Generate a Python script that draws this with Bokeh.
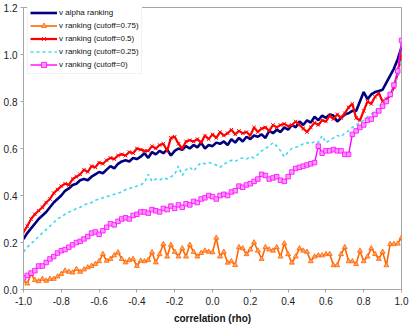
from bokeh.plotting import figure
from bokeh.models import (Range1d, FixedTicker, NumeralTickFormatter, Legend, LegendItem)
from bokeh.embed import file_html
from bokeh.resources import INLINE

# correlation (rho) categories: -1.0 .. 1.0 in steps of 0.02
rho = [round(-1 + 0.02 * i, 2) for i in range(101)]

alpha_ranking = [
    0.215, 0.24, 0.26, 0.28, 0.30, 0.315, 0.33, 0.35, 0.37, 0.385,
    0.40, 0.42, 0.43, 0.445, 0.45, 0.465, 0.47, 0.465, 0.48, 0.49,
    0.50, 0.495, 0.51, 0.525, 0.515, 0.535, 0.545, 0.55, 0.545, 0.56,
    0.555, 0.565, 0.58, 0.56, 0.585, 0.575, 0.59, 0.58, 0.595, 0.57,
    0.59, 0.60, 0.595, 0.61, 0.60, 0.615, 0.605, 0.625, 0.60, 0.615,
    0.61, 0.625, 0.62, 0.63, 0.615, 0.64, 0.625, 0.645, 0.63, 0.65,
    0.64, 0.655, 0.65, 0.66, 0.645, 0.675, 0.665, 0.68, 0.67, 0.69,
    0.68, 0.70, 0.69, 0.715, 0.70, 0.72, 0.71, 0.735, 0.72, 0.74,
    0.73, 0.745, 0.74, 0.715, 0.73, 0.745, 0.75, 0.76, 0.76, 0.80,
    0.84, 0.81, 0.83, 0.84, 0.845, 0.85, 0.88, 0.91, 0.94, 0.98,
    1.03,
]

cutoff_075 = [
    0.037, 0.025, 0.066, 0.04, 0.035, 0.045, 0.037, 0.045, 0.045, 0.055,
    0.066, 0.08, 0.075, 0.072, 0.087, 0.075, 0.085, 0.094, 0.10, 0.108,
    0.12, 0.151, 0.122, 0.13, 0.145, 0.158, 0.13, 0.115, 0.125, 0.13,
    0.10, 0.122, 0.12, 0.125, 0.158, 0.115, 0.15, 0.193, 0.14, 0.19,
    0.16, 0.14, 0.175, 0.14, 0.19, 0.16, 0.14, 0.155, 0.165, 0.16,
    0.158, 0.22, 0.14, 0.16, 0.114, 0.12, 0.104, 0.18, 0.175, 0.15,
    0.17, 0.20, 0.165, 0.13, 0.18, 0.17, 0.165, 0.18, 0.14, 0.196,
    0.15, 0.114, 0.14, 0.175, 0.165, 0.16, 0.12, 0.14, 0.145, 0.145,
    0.15, 0.151, 0.103, 0.103, 0.15, 0.18, 0.12, 0.12, 0.108, 0.165,
    0.12, 0.14, 0.175, 0.151, 0.13, 0.16, 0.103, 0.193, 0.193, 0.195,
    0.22,
]

cutoff_05 = [
    0.245, 0.27, 0.30, 0.32, 0.335, 0.35, 0.37, 0.385, 0.41, 0.425,
    0.44, 0.45, 0.445, 0.47, 0.48, 0.49, 0.51, 0.50, 0.525, 0.52,
    0.54, 0.535, 0.55, 0.56, 0.555, 0.57, 0.575, 0.57, 0.585, 0.58,
    0.60, 0.595, 0.59, 0.59, 0.61, 0.60, 0.615, 0.62, 0.59, 0.645,
    0.65, 0.62, 0.60, 0.63, 0.635, 0.63, 0.64, 0.625, 0.655, 0.64,
    0.66, 0.645, 0.67, 0.655, 0.665, 0.68, 0.66, 0.675, 0.665, 0.67,
    0.655, 0.69, 0.67, 0.685, 0.69, 0.675, 0.70, 0.69, 0.70, 0.705,
    0.695, 0.70, 0.715, 0.70, 0.685, 0.67, 0.69, 0.71, 0.70, 0.72,
    0.715, 0.74, 0.725, 0.745, 0.73, 0.75, 0.775, 0.79, 0.73, 0.72,
    0.76, 0.80, 0.79, 0.82, 0.835, 0.80, 0.81, 0.825, 0.86, 0.92,
    1.00,
]

cutoff_025 = [
    0.16, 0.18, 0.195, 0.21, 0.225, 0.24, 0.255, 0.27, 0.285, 0.30,
    0.31, 0.32, 0.33, 0.335, 0.345, 0.35, 0.36, 0.365, 0.37, 0.38,
    0.385, 0.39, 0.395, 0.40, 0.405, 0.41, 0.415, 0.425, 0.43, 0.435,
    0.44, 0.445, 0.455, 0.49, 0.46, 0.47, 0.465, 0.475, 0.47, 0.48,
    0.49, 0.525, 0.485, 0.51, 0.52, 0.505, 0.525, 0.54, 0.535, 0.54,
    0.535, 0.53, 0.52, 0.535, 0.54, 0.55, 0.545, 0.555, 0.56, 0.555,
    0.565, 0.56, 0.575, 0.59, 0.60, 0.61, 0.625, 0.61, 0.59, 0.565,
    0.585, 0.60, 0.605, 0.61, 0.62, 0.625, 0.62, 0.63, 0.625, 0.655,
    0.625, 0.635, 0.645, 0.655, 0.65, 0.665, 0.675, 0.69, 0.70, 0.71,
    0.72, 0.735, 0.745, 0.76, 0.775, 0.795, 0.81, 0.83, 0.86, 0.91,
    0.98,
]

cutoff_0 = [
    0.05, 0.06, 0.07, 0.08, 0.10, 0.10, 0.115, 0.13, 0.14, 0.155,
    0.165, 0.17, 0.18, 0.19, 0.20, 0.205, 0.215, 0.225, 0.24, 0.245,
    0.235, 0.25, 0.265, 0.28, 0.275, 0.29, 0.30, 0.305, 0.30, 0.315,
    0.32, 0.33, 0.33, 0.325, 0.34, 0.335, 0.33, 0.345, 0.34, 0.355,
    0.345, 0.36, 0.35, 0.365, 0.36, 0.375, 0.37, 0.385, 0.39, 0.40,
    0.395, 0.385, 0.40, 0.405, 0.40, 0.415, 0.42, 0.44, 0.435, 0.445,
    0.45, 0.46, 0.47, 0.49, 0.485, 0.47, 0.475, 0.48, 0.465, 0.46,
    0.48, 0.50, 0.515, 0.52, 0.525, 0.53, 0.535, 0.54, 0.61, 0.58,
    0.59, 0.59, 0.595, 0.59, 0.59, 0.575, 0.575, 0.66, 0.675, 0.69,
    0.70, 0.72, 0.725, 0.745, 0.76, 0.78, 0.80, 0.83, 0.87, 0.93,
    1.06,
]

x_ticks = [-1.0, -0.8, -0.6, -0.4, -0.2, 0.0, 0.2, 0.4, 0.6, 0.8, 1.0]
y_ticks = [0.0, 0.2, 0.4, 0.6, 0.8, 1.0, 1.2]

FONT = "Liberation Sans"
AXIS_GREY = "#a6a6a6"

p = figure(width=411, height=326, output_backend="svg", toolbar_location=None,
           x_range=Range1d(-1.0, 1.0), y_range=Range1d(0.0, 1.2),
           min_border_left=22, min_border_right=10, min_border_top=7,
           min_border_bottom=37)
p.background_fill_color = "white"
p.border_fill_color = "white"
p.outline_line_color = AXIS_GREY
p.outline_line_width = 1
p.xgrid.visible = False
p.ygrid.visible = False

# x axis: category-style tick marks at every rho value
p.xaxis.ticker = FixedTicker(ticks=x_ticks, minor_ticks=rho)
p.xaxis.formatter = NumeralTickFormatter(format="0.0")
p.xaxis.axis_label = "correlation (rho)"
p.xaxis.axis_label_text_font = FONT
p.xaxis.axis_label_text_font_size = "10px"
p.xaxis.axis_label_text_font_style = "bold"
p.xaxis.axis_label_text_color = "#111111"
p.xaxis.axis_label_standoff = 5
p.xaxis.major_label_standoff = 4
p.xaxis.minor_tick_out = 3
p.xaxis.minor_tick_in = 0

p.yaxis.ticker = FixedTicker(ticks=y_ticks)
p.yaxis.formatter = NumeralTickFormatter(format="0.0")
p.yaxis.major_label_standoff = 3
p.yaxis.minor_tick_line_color = None

for ax in (p.xaxis, p.yaxis):
    ax.axis_line_color = AXIS_GREY
    ax.major_tick_line_color = AXIS_GREY
    ax.minor_tick_line_color = AXIS_GREY if ax is p.xaxis else None
    ax.major_tick_out = 3
    ax.major_tick_in = 0
    ax.major_label_text_font = FONT
    ax.major_label_text_font_size = "10px"
    ax.major_label_text_color = "#222222"

# series
navy = p.line(rho, alpha_ranking, line_color="#000080", line_width=2.6)

orange_l = p.line(rho, cutoff_075, line_color="#FF6600", line_width=1.6)
orange_m = p.scatter(rho, cutoff_075, marker="triangle", size=5,
                     line_color="#FF6600", fill_color="#FFA366", line_width=0.8)

red_l = p.line(rho, cutoff_05, line_color="#FF0000", line_width=2.2)
red_m = p.scatter(rho, cutoff_05, marker="x", size=5,
                  line_color="#FF0000", line_width=1)

cyan_l = p.line(rho, cutoff_025, line_color="#3FD9EE", line_width=1.6,
                line_dash="3 3")

mag_l = p.line(rho, cutoff_0, line_color="#FF00FF", line_width=1.4)
mag_m = p.scatter(rho, cutoff_0, marker="square", size=4.5,
                  line_color="#FF00FF", fill_color="#FF99FF", line_width=0.8)

legend = Legend(items=[
    LegendItem(label="v alpha ranking", renderers=[navy]),
    LegendItem(label="v ranking (cutoff=0.75)", renderers=[orange_l, orange_m]),
    LegendItem(label="v ranking (cutoff=0.5)", renderers=[red_l, red_m]),
    LegendItem(label="v ranking (cutoff=0.25)", renderers=[cyan_l]),
    LegendItem(label="v ranking (cutoff=0)", renderers=[mag_l, mag_m]),
], location=(4, 215))
legend.label_text_font = FONT
legend.label_text_font_size = "8px"
legend.label_text_color = "#111111"
legend.label_height = 13
legend.glyph_height = 13
legend.glyph_width = 27
legend.label_standoff = 2
legend.spacing = 0
legend.padding = 2
legend.margin = 0
legend.border_line_color = "#e6e6e6"
legend.background_fill_color = "white"
legend.background_fill_alpha = 1.0
p.add_layout(legend)

open("out.html", "w").write(file_html(p, INLINE))
